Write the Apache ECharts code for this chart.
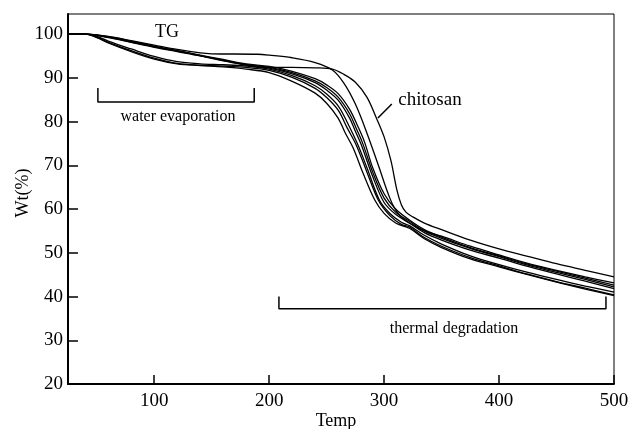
<!DOCTYPE html>
<html>
<head>
<meta charset="utf-8">
<script src="https://cdn.jsdelivr.net/npm/echarts@6/dist/echarts.min.js"></script>
<style>
  html, body { margin: 0; padding: 0; background: #fff; }
  #chart { width: 632px; height: 429px; }
</style>
</head>
<body>
<div id="chart"></div>
<script>
// Thermogravimetric curves: temperature (°C) vs. remaining weight (%)
const xTicks = [100, 200, 300, 400, 500];
const yTicks = [20, 30, 40, 50, 60, 70, 80, 90, 100];

const chitosan = [[25,100],[40,100],[60,99.4],[80,98.4],[100,97.2],[120,96.2],[140,95.1],[160,94],[180,93],[190,92.5],[200,92.4],[220,92.4],[240,92.3],[255,92.0],[265,90.8],[275,89.0],[285,85.6],[293,81.0],[300,76.5],[306,71],[311,64.5],[315,61],[319,59.3],[325,58.2],[335,56.8],[350,55.3],[375,52.9],[400,50.9],[425,49.2],[450,47.5],[475,46.0],[500,44.5]];
const sampleB = [[25,100],[40,100],[60,99.5],[80,98.5],[100,97.5],[120,96.5],[140,95.7],[150,95.5],[190,95.4],[200,95.2],[220,94.6],[240,93.5],[255,91.8],[265,88.8],[275,84.0],[285,77.4],[295,70],[305,62.5],[312,59],[322,56.8],[335,55],[350,53.8],[375,51.5],[400,49.5],[425,47.6],[450,46],[475,44.5],[500,43.1]];
const sampleC = [[25,100],[40,100],[60,99.3],[80,98.3],[100,97.2],[120,96.2],[140,95.2],[160,94.2],[180,93.2],[200,92.6],[220,91.5],[240,89.8],[250,88.4],[260,86.4],[270,82.8],[277,79],[283,75.3],[290,69.5],[300,63.5],[310,60],[322,57.5],[335,55.3],[350,53.6],[375,51.2],[400,49.3],[425,47.4],[450,45.8],[475,44.2],[500,42.6]];
const sampleD = [[25,100],[40,100],[60,99.3],[80,98.2],[100,97.1],[120,96.1],[140,95.1],[160,94.0],[180,93.0],[200,92.4],[220,91.2],[240,89.3],[250,87.8],[260,85.6],[270,81.8],[276,78.3],[281,75.3],[290,68.5],[300,62.5],[310,59.3],[322,57.2],[335,55],[350,53.3],[375,51],[400,49.1],[425,47.2],[450,45.5],[475,43.9],[500,42.2]];
const sampleE = [[25,100],[40,100],[60,99.2],[80,98.1],[100,97.0],[120,96.0],[140,95.0],[160,93.9],[180,92.9],[200,92.2],[220,90.9],[240,88.9],[250,87.2],[260,84.9],[270,80.8],[275,77.8],[280,74.8],[290,67.5],[300,61.5],[310,58.8],[322,56.8],[335,54.6],[350,52.9],[375,50.6],[400,48.8],[425,46.9],[450,45.2],[475,43.5],[500,41.8]];
const sampleF = [[25,100],[40,100],[50,99.5],[60,98.4],[80,96.6],[100,94.9],[120,93.7],[140,93.2],[160,93.0],[180,92.7],[200,92.0],[220,90.5],[240,88.2],[250,86.3],[260,83.6],[268,79.8],[277,74.8],[285,69.5],[296,62],[305,59],[315,57],[322,56.2],[335,54],[350,52],[375,49.3],[400,47.3],[425,45.5],[450,43.9],[475,42.4],[500,41.0]];
const sampleG = [[25,100],[40,100],[50,99.3],[60,98.1],[80,96.2],[100,94.5],[120,93.3],[140,92.9],[160,92.7],[180,92.4],[200,91.7],[220,90.1],[240,87.6],[250,85.5],[260,82.6],[268,78.5],[276,74.5],[285,68.5],[295,62],[305,58.5],[315,56.5],[322,55.9],[335,53.5],[350,51.5],[375,48.9],[400,47],[425,45.1],[450,43.4],[475,41.9],[500,40.4]];
const sampleH = [[25,100],[40,100],[50,99.2],[60,98],[80,96],[100,94.3],[120,93.2],[140,92.8],[160,92.5],[180,92],[200,91.2],[220,89.2],[240,86.5],[250,84.2],[260,80.8],[266,77.5],[273,74],[282,68],[292,62],[300,59],[310,56.8],[322,55.6],[335,53.2],[350,51.2],[375,48.6],[400,46.8],[425,45],[450,43.3],[475,41.7],[500,40.2]];

// annotation brackets and pointer
const waterBracket = [[51, 87.7], [51, 84.5], [187, 84.5], [187, 87.7]];
const thermalBracket = [[208.5, 40.0], [208.5, 37.2], [493, 37.2], [493, 40.0]];
const chitosanPointer = [[294.6, 80.8], [306.7, 84.0]];

const curves = [chitosan, sampleB, sampleC, sampleD, sampleE, sampleF, sampleG, sampleH];

const serif = '"Liberation Serif", "Times New Roman", serif';

const curveSeries = curves.map(d => ({
  type: 'line',
  data: d,
  showSymbol: false,
  smooth: 0.35,
  lineStyle: { color: '#000', width: 1.3 },
  silent: true
}));

const annoSeries = [waterBracket, thermalBracket, chitosanPointer].map(d => ({
  type: 'line',
  data: d,
  showSymbol: false,
  lineStyle: { color: '#000', width: 1.5 },
  silent: true
}));

const chart = echarts.init(document.getElementById('chart'));
chart.setOption({
  animation: false,
  backgroundColor: '#fff',
  grid: {
    left: 68, right: 18, top: 14, bottom: 45,
    show: true, borderColor: '#000', borderWidth: 1
  },
  xAxis: {
    type: 'value', min: 25, max: 500,
    axisLine: { show: true, onZero: false, lineStyle: { color: '#000', width: 2 } },
    axisTick: { show: true, inside: true, length: 9, customValues: xTicks, lineStyle: { color: '#000', width: 1.5 } },
    axisLabel: { customValues: xTicks, color: '#000', fontFamily: serif, fontSize: 19, margin: 8 },
    splitLine: { show: false }
  },
  yAxis: {
    type: 'value', min: 20, max: 104.6,
    axisLine: { show: true, onZero: false, lineStyle: { color: '#000', width: 2 } },
    axisTick: { show: true, inside: true, length: 10, customValues: yTicks, lineStyle: { color: '#000', width: 1.5 } },
    axisLabel: { customValues: yTicks, color: '#000', fontFamily: serif, fontSize: 19, margin: 5 },
    splitLine: { show: false }
  },
  graphic: [
    { type: 'text', x: 336, y: 421, style: { text: 'Temp', fill: '#000', font: '18px ' + serif, textAlign: 'center', textVerticalAlign: 'middle' } },
    { type: 'text', x: 23, y: 193, rotation: Math.PI / 2, style: { text: 'Wt(%)', fill: '#000', font: '18px ' + serif, textAlign: 'center', textVerticalAlign: 'middle' } },
    { type: 'text', x: 167, y: 32, style: { text: 'TG', fill: '#000', font: '18px ' + serif, textAlign: 'center', textVerticalAlign: 'middle' } },
    { type: 'text', x: 430, y: 100, style: { text: 'chitosan', fill: '#000', font: '19px ' + serif, textAlign: 'center', textVerticalAlign: 'middle' } },
    { type: 'text', x: 178, y: 117, style: { text: 'water evaporation', fill: '#000', font: '16px ' + serif, textAlign: 'center', textVerticalAlign: 'middle' } },
    { type: 'text', x: 454, y: 329, style: { text: 'thermal degradation', fill: '#000', font: '16px ' + serif, textAlign: 'center', textVerticalAlign: 'middle' } }
  ],
  series: curveSeries.concat(annoSeries)
});
</script>
</body>
</html>
